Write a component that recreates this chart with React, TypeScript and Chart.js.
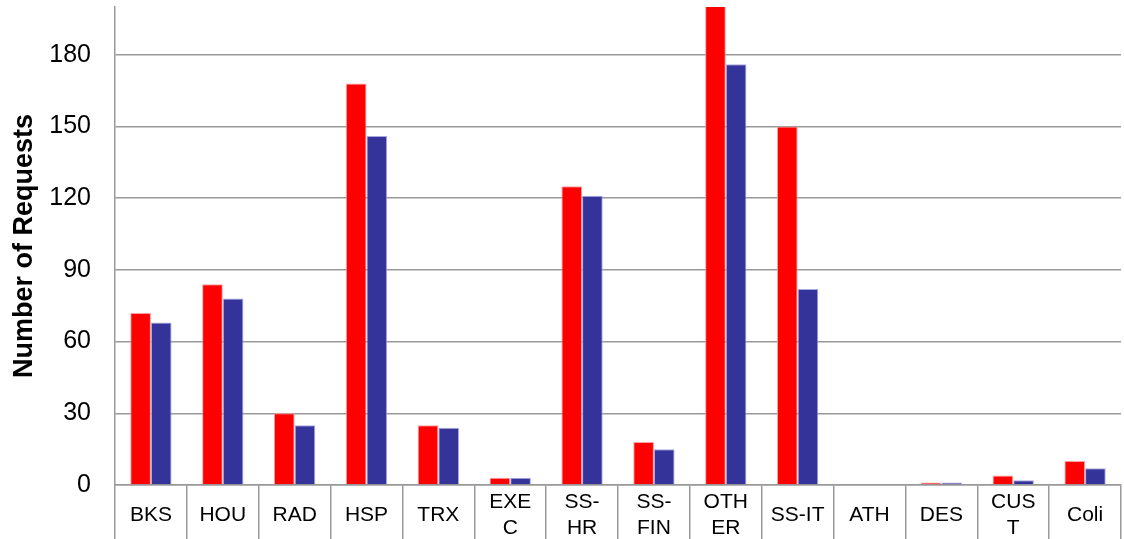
import React, { useEffect, useRef } from "react";
import { Chart, registerables } from "chart.js";

Chart.register(...registerables);

const categories: (string | string[])[] = [
  "BKS",
  "HOU",
  "RAD",
  "HSP",
  "TRX",
  ["EXE", "C"],
  ["SS-", "HR"],
  ["SS-", "FIN"],
  ["OTH", "ER"],
  "SS-IT",
  "ATH",
  "DES",
  ["CUS", "T"],
  "Coli",
];
const seriesRed = [72, 84, 30, 168, 25, 3, 125, 18, 205, 150, 0, 1, 4, 10];
const seriesBlue = [68, 78, 25, 146, 24, 3, 121, 15, 176, 82, 0, 1, 2, 7];
const yTickValues = [0, 30, 60, 90, 120, 150, 180];
const yMax = 200;
const yTitle = "Number of Requests";

const FONT = '"Liberation Sans", Arial, sans-serif';

export default function App() {
  const ref = useRef<HTMLCanvasElement>(null);
  useEffect(() => {
    const chart = new Chart(ref.current!, {
      type: "bar",
      data: {
        labels: categories,
        datasets: [
          {
            label: "Series 1",
            data: seriesRed,
            backgroundColor: "#FF0000",
            borderColor: "rgba(255,150,150,0.9)",
            borderWidth: 1,
            categoryPercentage: 0.575,
            barPercentage: 1,
          },
          {
            label: "Series 2",
            data: seriesBlue,
            backgroundColor: "#333399",
            borderColor: "rgba(160,160,225,0.9)",
            borderWidth: 1,
            categoryPercentage: 0.575,
            barPercentage: 1,
          },
        ],
      },
      options: {
        responsive: false,
        animation: false,
        layout: { padding: { top: 7, right: 3, left: 0, bottom: 0 } },
        plugins: { legend: { display: false }, tooltip: { enabled: false } },
        scales: {
          x: {
            offset: true,
            afterFit: (s: any) => {
              s.height = 54;
              s.paddingLeft = 0;
              s.paddingRight = 0;
            },
            grid: {
              offset: true,
              drawOnChartArea: false,
              drawTicks: true,
              tickLength: 56,
              color: "#999999",
              lineWidth: 1.5,
            },
            border: { color: "#999999", width: 1.5 },
            ticks: {
              color: "#000000",
              font: { family: FONT, size: 21, lineHeight: 1.27 },
              padding: -39,
              maxRotation: 0,
              minRotation: 0,
              autoSkip: false,
              crossAlign: "center",
            },
          },
          y: {
            min: 0,
            max: yMax,
            afterBuildTicks: (s: any) => {
              s.ticks = yTickValues.map((v) => ({ value: v }));
            },
            afterFit: (s: any) => {
              s.width = 115;
              s.paddingTop = 0;
              s.paddingBottom = 0;
            },
            ticks: {
              color: "#000000",
              font: { family: FONT, size: 25 },
              padding: 24,
            },
            grid: { drawTicks: false, color: "#999999", lineWidth: 1.5 },
            border: { color: "#999999", width: 1.5 },
            title: {
              display: true,
              text: yTitle,
              color: "#000000",
              font: { family: FONT, size: 27, weight: "bold" },
              padding: { top: 8, bottom: 10 },
            },
          },
        },
      },
    } as any);
    return () => chart.destroy();
  }, []);
  return (
    <div style={{ position: "fixed", left: 0, top: 0, width: 1124, height: 539, background: "#fff" }}>
      <canvas ref={ref} width={1124} height={539} style={{ display: "block" }} />
    </div>
  );
}
